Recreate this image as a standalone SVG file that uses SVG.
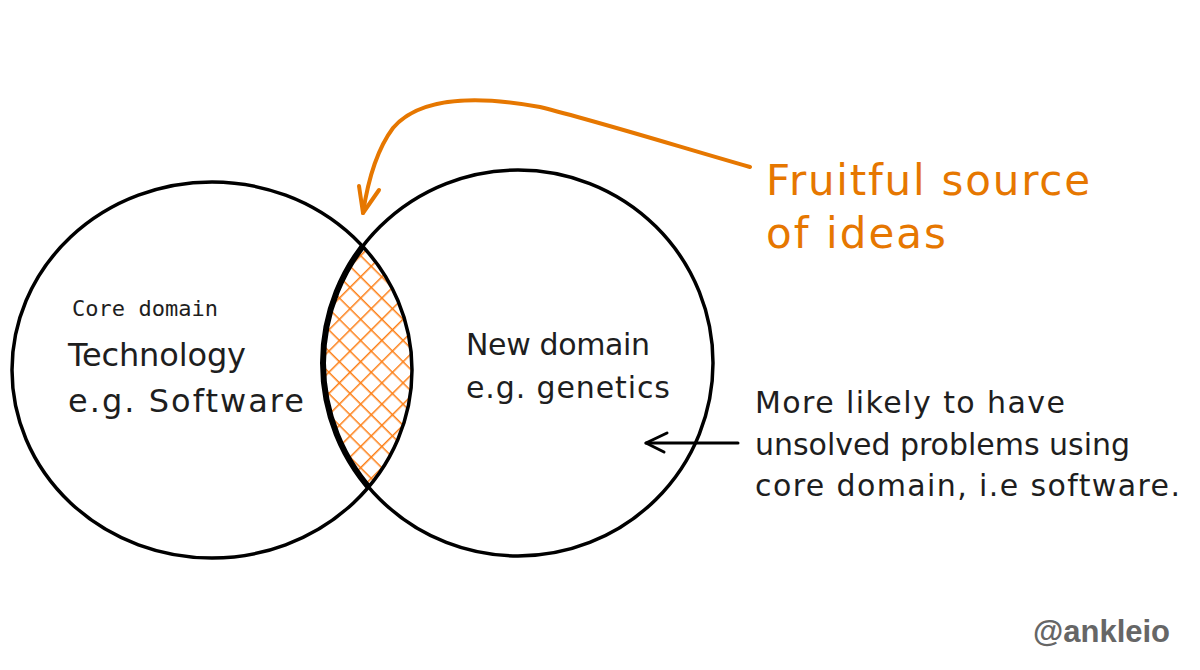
<svg xmlns="http://www.w3.org/2000/svg" width="1200" height="670" viewBox="0 0 1200 670">
  <defs>
    <style>
      .hand { font-family: "DejaVu Sans", "Liberation Sans", sans-serif; fill: #1e1e1e; }
      .orange { fill: #e67700; }
      .mono { font-family: "DejaVu Sans Mono", "Liberation Mono", monospace; fill: #1e1e1e; }
      .circle { fill: none; stroke: #000; stroke-width: 3.5; }
      .conn { fill: none; stroke-linecap: round; stroke-linejoin: round; }
    </style>
    <pattern id="hatch" patternUnits="userSpaceOnUse" width="15" height="15" patternTransform="rotate(45)">
      <line x1="0" y1="0" x2="0" y2="15" stroke="#fd7e14" stroke-width="3"/>
      <line x1="0" y1="0" x2="15" y2="0" stroke="#fd7e14" stroke-width="3"/>
    </pattern>
    <clipPath id="leftClip">
      <ellipse cx="212" cy="370" rx="200" ry="188"/>
    </clipPath>
  </defs>
  <rect width="1200" height="670" fill="#ffffff"/>

  <g id="intersection">
    <ellipse cx="518" cy="363" rx="195" ry="193" fill="url(#hatch)" clip-path="url(#leftClip)"/>
  </g>

  <g id="core-domain">
    <ellipse class="circle" cx="212" cy="370" rx="200" ry="188"/>
    <text class="mono" x="72" y="316" font-size="22" textLength="146">Core domain</text>
    <text class="hand" x="68" y="366" font-size="32" textLength="178">Technology</text>
    <text class="hand" x="68" y="412" font-size="32" textLength="236">e.g. Software</text>
  </g>

  <g id="new-domain">
    <ellipse class="circle" cx="518" cy="363" rx="195" ry="193"/>
    <text class="hand" x="466" y="355" font-size="30" textLength="184">New domain</text>
    <text class="hand" x="466" y="398" font-size="30" textLength="204">e.g. genetics</text>
  </g>

  <g id="lens-outline">
    <ellipse cx="518" cy="363" rx="195" ry="193" fill="none" stroke="#000" stroke-width="6" clip-path="url(#leftClip)"/>
  </g>

  <g id="fruitful-label">
    <text class="hand orange" x="766" y="195" font-size="42" textLength="324">Fruitful source</text>
    <text class="hand orange" x="766" y="248" font-size="42" textLength="180">of ideas</text>
  </g>

  <g id="likely-label">
    <text class="hand" x="755" y="413" font-size="30" textLength="310">More likely to have</text>
    <text class="hand" x="755" y="455" font-size="30" textLength="375">unsolved problems using</text>
    <text class="hand" x="755" y="496" font-size="30" textLength="425">core domain, i.e software.</text>
  </g>

  <g id="watermark">
    <text x="1033" y="642" font-family="Liberation Sans, Arial, sans-serif" font-weight="bold" font-size="31" fill="#666666">@ankleio</text>
  </g>

  <g id="connectors">
    <path class="conn" stroke="#e67700" stroke-width="4" d="M750,167 C680,147 600,122 540,107 C480,96 420,96 393,128 C378,148 368,180 363,213"/>
    <path class="conn" stroke="#e67700" stroke-width="4" d="M359,186 L363,213 L379,190"/>
    <path class="conn" stroke="#000" stroke-width="3" d="M738,443 L646,443"/>
    <path class="conn" stroke="#000" stroke-width="3" d="M667,433 L646,443 L664,452"/>
  </g>
</svg>
